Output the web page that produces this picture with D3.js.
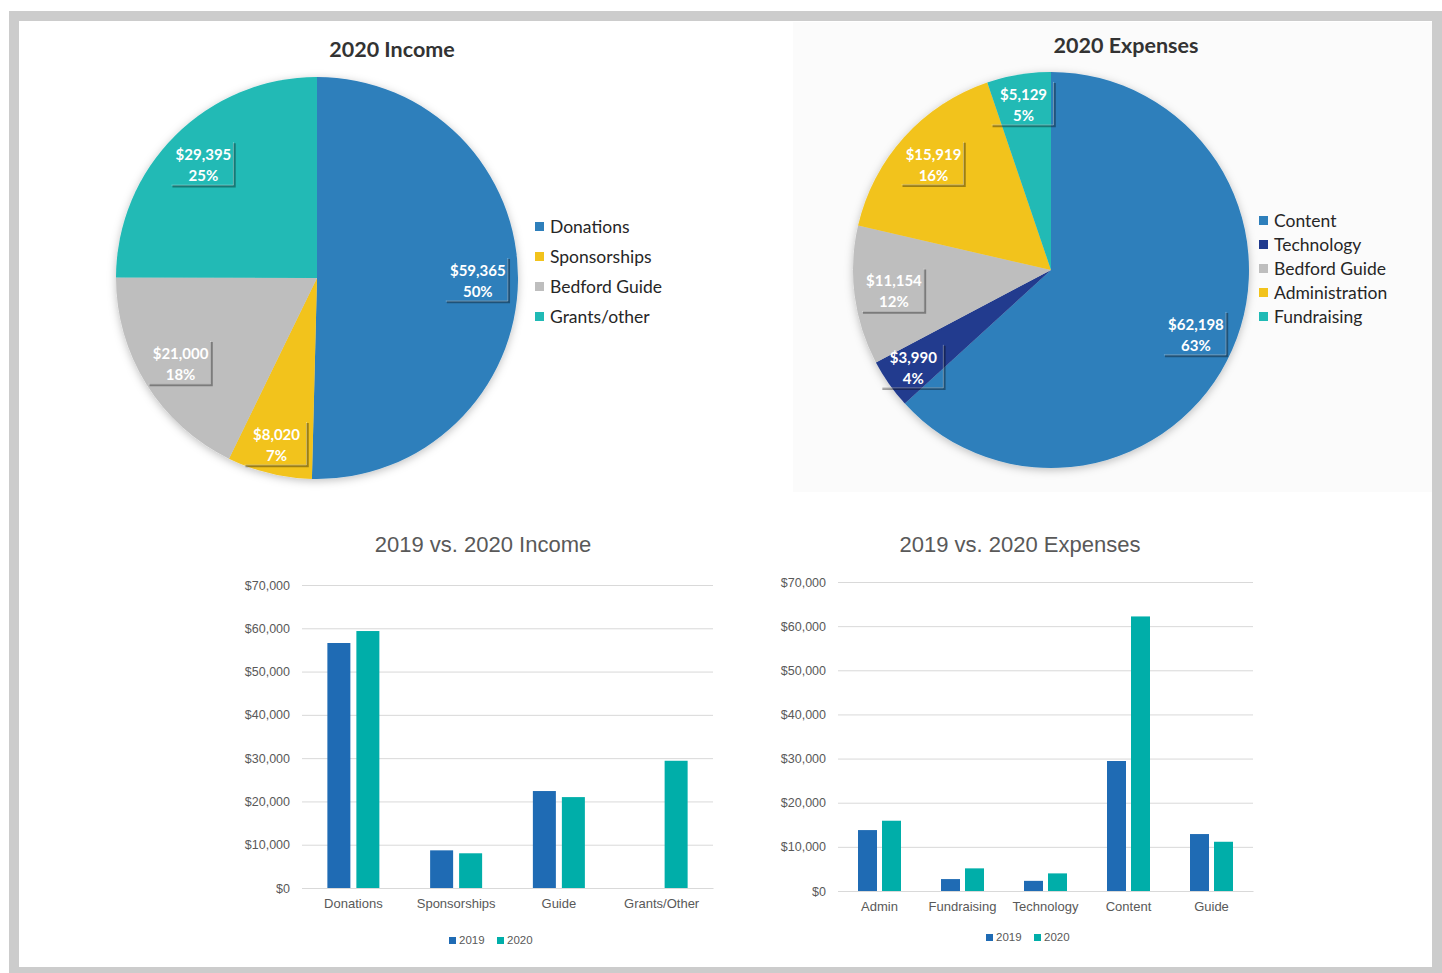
<!DOCTYPE html>
<html>
<head>
<meta charset="utf-8">
<script src="https://cdn.jsdelivr.net/npm/d3@7"></script>
<style>
  body { margin: 0; background: #fff; }
  svg { display: block; }
</style>
</head>
<body>
<div id="container"></div>
<script>
// pie data
const incomeCats = ["Donations", "Sponsorships", "Bedford Guide", "Grants/other"]
const incomeValues = [59365, 8020, 21000, 29395]
const incomePcts = ["50%", "7%", "18%", "25%"]

const expenseCats = ["Content", "Technology", "Bedford Guide", "Administration", "Fundraising"]
const expenseValues = [62198, 3990, 11154, 15919, 5129]
const expensePcts = ["63%", "4%", "12%", "16%", "5%"]

// bar data
const years = ["2019", "2020"]
const incomeBarCats = ["Donations", "Sponsorships", "Guide", "Grants/Other"]
const income2019 = [56600, 8700, 22400, 0]
const income2020 = [59365, 8020, 21000, 29395]

const expenseBarCats = ["Admin", "Fundraising", "Technology", "Content", "Guide"]
const expense2019 = [13800, 2700, 2300, 29450, 12900]
const expense2020 = [15919, 5129, 3990, 62198, 11154]

const yTicks = [0, 10000, 20000, 30000, 40000, 50000, 60000, 70000]

const pieColors = {
  "Donations": "#2e7fbb", "Sponsorships": "#f2c31c", "Bedford Guide": "#bebebe", "Grants/other": "#20bab5",
  "Content": "#2e7fbb", "Technology": "#203a8e", "Administration": "#f2c31c", "Fundraising": "#20bab5"
}
const barColors = ["#1f6bb4", "#00aea9"]

const svg = d3.select("#container").append("svg")
    .attr("width", 1442)
    .attr("height", 973)

const defs = svg.append("defs")
defs.append("filter").attr("id", "pieShadow")
    .attr("x", "-10%").attr("y", "-10%").attr("width", "120%").attr("height", "120%")
  .append("feDropShadow")
    .attr("dx", 0).attr("dy", 2).attr("stdDeviation", 4)
    .attr("flood-color", "#000").attr("flood-opacity", 0.25)

// frame
svg.append("rect")
    .attr("x", 14).attr("y", 16).attr("width", 1423).attr("height", 956)
    .attr("fill", "none").attr("stroke", "#cccccc").attr("stroke-width", 10)
svg.append("rect")
    .attr("x", 793).attr("y", 22).attr("width", 639).attr("height", 470)
    .attr("fill", "#fbfbfb")

function drawPie(opts){
    const g = svg.append("g")
    g.append("text")
        .attr("x", opts.titleX).attr("y", opts.titleY)
        .attr("text-anchor", "middle")
        .style("font-family", "Lato, 'Open Sans', sans-serif")
        .style("font-weight", "bold")
        .style("font-size", "21.5px")
        .style("fill", "#333")
        .text(opts.title)

    const pie = d3.pie().sort(null).value(d => d.value)
    const arcs = pie(opts.cats.map((c, i) => ({cat: c, value: opts.values[i], pct: opts.pcts[i]})))
    const arc = d3.arc().innerRadius(0).outerRadius(opts.r)
    const labelArc = d3.arc().innerRadius(opts.r * 0.8).outerRadius(opts.r * 0.8)
    const smallArc = d3.arc().innerRadius(opts.r * 0.85).outerRadius(opts.r * 0.85)

    const pg = g.append("g").attr("transform", `translate(${opts.cx},${opts.cy})`)
    pg.append("g").attr("filter", "url(#pieShadow)")
      .selectAll("path")
      .data(arcs)
      .enter()
      .append("path")
      .attr("d", arc)
      .style("fill", d => pieColors[d.data.cat])

    const lab = pg.selectAll(".lab")
      .data(arcs)
      .enter()
      .append("g")
      .attr("class", "lab")
      .attr("transform", d => {
          const small = (d.endAngle - d.startAngle) < 0.5
          return `translate(${(small ? smallArc : labelArc).centroid(d)})`
      })

    // label box with shadow edges
    lab.append("path")
      .attr("d", "M31,-21 L31,22 L-31,22")
      .attr("fill", "none")
      .attr("stroke", "rgba(0,0,0,0.35)")
      .attr("stroke-width", 2.5)
    lab.append("path")
      .attr("d", "M30,-22 L30,21 L-32,21")
      .attr("fill", "none")
      .attr("stroke", "rgba(255,255,255,0.35)")
      .attr("stroke-width", 1)

    lab.append("text")
      .attr("text-anchor", "middle")
      .attr("y", -4)
      .style("font-family", "Lato, 'Open Sans', sans-serif")
      .style("font-weight", "bold")
      .style("font-size", "15px")
      .style("fill", "#fff")
      .text(d => "$" + d3.format(",")(d.data.value))
    lab.append("text")
      .attr("text-anchor", "middle")
      .attr("y", 17)
      .style("font-family", "Lato, 'Open Sans', sans-serif")
      .style("font-weight", "bold")
      .style("font-size", "15px")
      .style("fill", "#fff")
      .text(d => d.data.pct)

    const legend = g.selectAll(".leg")
      .data(opts.cats)
      .enter()
      .append("g")
      .attr("transform", (d, i) => `translate(${opts.legX},${opts.legY + i * opts.legStep})`)
    legend.append("rect")
      .attr("x", 0).attr("y", -5)
      .attr("width", 9).attr("height", 9)
      .style("fill", d => pieColors[d])
    legend.append("text")
      .attr("x", 15).attr("y", 6)
      .style("font-family", "Lato, 'Open Sans', sans-serif")
      .style("font-size", "17.5px")
      .style("fill", "#262626")
      .text(d => d)
}

drawPie({title: "2020 Income", titleX: 392, titleY: 57, cats: incomeCats, values: incomeValues, pcts: incomePcts,
    cx: 317, cy: 278, r: 201, legX: 535, legY: 227, legStep: 30})
drawPie({title: "2020 Expenses", titleX: 1126, titleY: 53, cats: expenseCats, values: expenseValues, pcts: expensePcts,
    cx: 1051, cy: 270, r: 198, legX: 1259, legY: 221, legStep: 24})

function drawBars(opts){
    const g = svg.append("g")
    const x = d3.scaleBand().domain(opts.cats).range([opts.x0, opts.x1])
    const y = d3.scaleLinear().domain([0, 70000]).range([opts.y0, opts.y1])

    g.append("text")
      .attr("x", opts.titleX).attr("y", 552)
      .attr("text-anchor", "middle")
      .style("font-family", "'Liberation Sans', Arial, sans-serif")
      .style("font-size", "22px")
      .style("fill", "#595959")
      .text(opts.title)

    const axis = g.append("g")
      .attr("transform", `translate(${opts.x0},0)`)
      .call(d3.axisLeft(y).tickValues(yTicks).tickSize(-(opts.x1 - opts.x0)).tickPadding(12)
        .tickFormat(d => "$" + d3.format(",")(d)))
    axis.select(".domain").remove()
    axis.selectAll("line").attr("stroke", "#d9d9d9")
    axis.selectAll("text")
      .style("font-family", "'Liberation Sans', Arial, sans-serif")
      .style("font-size", "12.5px")
      .style("fill", "#595959")

    const xAxis = g.append("g")
      .attr("transform", `translate(0,${opts.y0})`)
      .call(d3.axisBottom(x).tickSize(0).tickPadding(11))
    xAxis.select(".domain").attr("stroke", "#d9d9d9")
    xAxis.selectAll("text")
      .style("font-family", "'Liberation Sans', Arial, sans-serif")
      .style("font-size", "13px")
      .style("fill", "#595959")

    const series = [opts.s2019, opts.s2020]
    series.forEach((vals, si) => {
        g.selectAll(".b" + si)
          .data(vals)
          .enter()
          .append("rect")
          .attr("x", (d, i) => x(opts.cats[i]) + x.bandwidth() / 2 + (si === 0 ? -opts.bw - opts.gap / 2 : opts.gap / 2))
          .attr("y", d => y(d))
          .attr("width", opts.bw)
          .attr("height", d => y(0) - y(d))
          .style("fill", barColors[si])
    })

    const leg = g.selectAll(".lg")
      .data(years)
      .enter()
      .append("g")
      .attr("transform", (d, i) => `translate(${opts.legX + i * 48},${opts.legY})`)
    leg.append("rect")
      .attr("x", 0).attr("y", -7).attr("width", 7).attr("height", 7)
      .style("fill", (d, i) => barColors[i])
    leg.append("text")
      .attr("x", 10).attr("y", 0)
      .style("font-family", "'Liberation Sans', Arial, sans-serif")
      .style("font-size", "11.5px")
      .style("fill", "#595959")
      .text(d => d)
}

drawBars({title: "2019 vs. 2020 Income", titleX: 483, cats: incomeBarCats, s2019: income2019, s2020: income2020,
    x0: 302, x1: 713, y0: 888, y1: 585, bw: 23, gap: 6, legX: 449, legY: 944})
drawBars({title: "2019 vs. 2020 Expenses", titleX: 1020, cats: expenseBarCats, s2019: expense2019, s2020: expense2020,
    x0: 838, x1: 1253, y0: 891, y1: 582, bw: 19, gap: 5, legX: 986, legY: 941})
</script>
</body>
</html>
